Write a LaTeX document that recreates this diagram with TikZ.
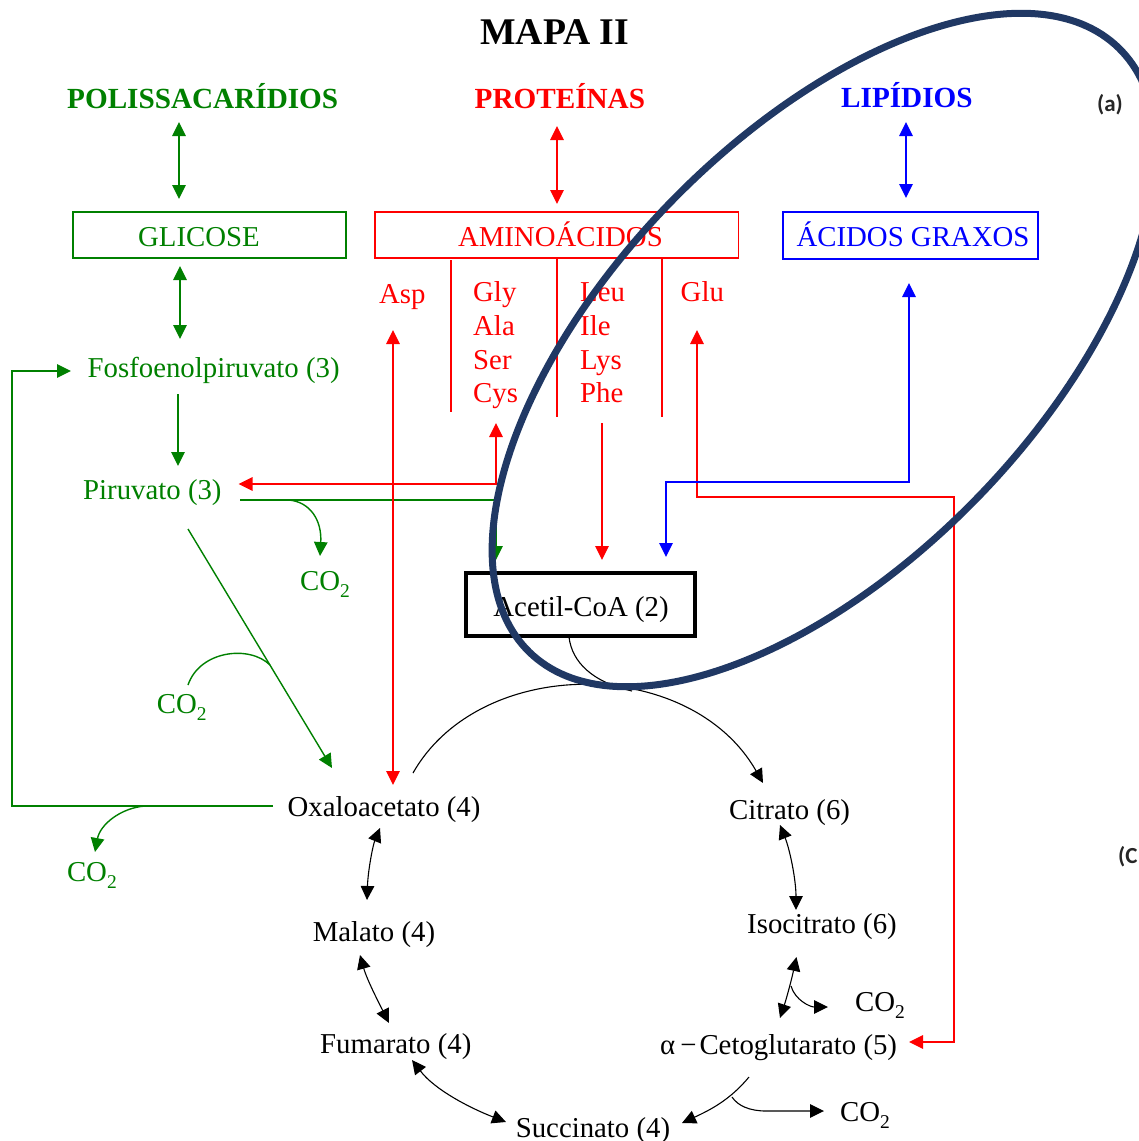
\documentclass[tikz,border=0pt]{standalone}
\usepackage{fontspec}
\setmainfont{Liberation Serif}
\newfontfamily\sansb{Carlito}
\usetikzlibrary{arrows.meta}
\definecolor{ggreen}{RGB}{0,128,0}
\definecolor{rred}{RGB}{255,0,0}
\definecolor{bblue}{RGB}{0,0,255}
\definecolor{navy}{RGB}{32,56,100}
\newcommand{\cotwo}{CO\raisebox{-7pt}{\fontsize{19.5}{20}\selectfont 2}}
\tikzset{
  lg/.style={draw=ggreen, line width=1.4pt},
  lr/.style={draw=rred, line width=1.4pt},
  lb/.style={draw=bblue, line width=1.4pt},
  lk/.style={draw=black, line width=1.1pt},
  ea/.style={-{Triangle[length=14pt,width=13.5pt]}},
  da/.style={{Triangle[length=14pt,width=13.5pt]}-{Triangle[length=14pt,width=13.5pt]}},
  txt/.style={inner sep=0pt, anchor=base west, font=\fontsize{28.8}{34}\selectfont},
  hd/.style={inner sep=0pt, anchor=base west, font=\fontsize{29.2}{34}\selectfont\bfseries},
  boxx/.style={draw, line width=1.4pt, inner sep=0pt, fill=none}
}
\begin{document}
\begin{tikzpicture}[x=1pt,y=-1pt]
\useasboundingbox (0,0) rectangle (1139,1141);
% ---------- headings
\node[hd, font=\fontsize{37.7}{42}\selectfont\bfseries] (title) at (480,44) {MAPA II};
\node[hd, text=ggreen] (polis) at (67,108) {POLISSACARÍDIOS};
\node[hd, text=rred] (prot) at (474.5,108) {PROTEÍNAS};
\node[hd, text=bblue] (lip) at (841,107) {LIPÍDIOS};
\node[inner sep=0pt, font=\sansb\fontsize{23}{26}\selectfont\bfseries, text=black!85] (lbla) at (1110,104.5) {(a)};
\node[inner sep=0pt, anchor=west, font=\sansb\fontsize{23}{26}\selectfont\bfseries, text=black!85] (lblc) at (1118,857) {(C};
% ---------- boxes
\node[boxx, draw=ggreen, minimum width=273pt, minimum height=46pt] (glibox) at (209.5,235) {};
\node[txt, anchor=base, text=ggreen] (gli) at (199,246) {GLICOSE};
\node[boxx, draw=rred, minimum width=363.6pt, minimum height=46pt] (amibox) at (556.8,235) {};
\node[txt, anchor=base, text=rred] (ami) at (560.4,246) {AMINOÁCIDOS};
\node[boxx, draw=bblue, minimum width=255pt, minimum height=47pt] (agbox) at (910.5,235.5) {};
\node[txt, anchor=base, text=bblue] (ag) at (913,246.5) {ÁCIDOS GRAXOS};
\node[boxx, draw=black, line width=3.5pt, minimum width=229pt, minimum height=63pt] (acebox) at (580.5,604.5) {};
\node[txt, anchor=base] (ace) at (581,616.5) {Acetil-CoA (2)};
% ---------- metabolites
\node[txt, text=ggreen] (fosfo) at (87.5,377.5) {Fosfoenolpiruvato (3)};
\node[txt, text=ggreen] (piru) at (83,499) {Piruvato (3)};
\node[txt] (oxa) at (287.5,816.5) {Oxaloacetato (4)};
\node[txt] (cit) at (729,819.5) {Citrato (6)};
\node[txt] (iso) at (747,933) {Isocitrato (6)};
\node[txt] (ceto) at (660,1054) {α\hspace{5pt}−\hspace{3pt}Cetoglutarato (5)};
\node[txt] (mal) at (312.6,941.5) {Malato (4)};
\node[txt] (fum) at (320,1053) {Fumarato (4)};
\node[txt] (suc) at (515.6,1137) {Succinato (4)};
% ---------- CO2
\node[txt, text=ggreen] (co2a) at (300,590) {\cotwo};
\node[txt, text=ggreen] (co2b) at (156.7,713) {\cotwo};
\node[txt, text=ggreen] (co2c) at (66.8,881.7) {\cotwo};
\node[txt] (co2d) at (855,1011.7) {\cotwo};
\node[txt] (co2e) at (840,1121.7) {\cotwo};
% ---------- amino acids
\node[txt, text=rred] (asp) at (379,303) {Asp};
\node[txt, text=rred] (gly) at (473,301.7) {Gly};
\node[txt, text=rred] (ala) at (473,335.5) {Ala};
\node[txt, text=rred] (ser) at (473,369.5) {Ser};
\node[txt, text=rred] (cys) at (473,402) {Cys};
\node[txt, text=rred] (leu) at (580,301) {Leu};
\node[txt, text=rred] (ile) at (580,335) {Ile};
\node[txt, text=rred] (lys) at (580,369) {Lys};
\node[txt, text=rred] (phe) at (580,402) {Phe};
\node[txt, text=rred] (glu) at (680.5,301) {Glu};
% ---------- coordinates
\coordinate (g1a) at (179,122); \coordinate (g1b) at (179,199);
\coordinate (g2a) at (180,266); \coordinate (g2b) at (180,339);
\coordinate (g3a) at (178,394); \coordinate (g3b) at (178,466);
\coordinate (g4a) at (240,500); \coordinate (g4b) at (496,500); \coordinate (g4c) at (496,560);
\coordinate (g5a) at (289,500); \coordinate (g5b) at (320,556);
\coordinate (g6a) at (188,529); \coordinate (g6b) at (332,768);
\coordinate (g7a) at (188,685); \coordinate (g7b) at (270,665);
\coordinate (g8a) at (273,806); \coordinate (g8b) at (12,806); \coordinate (g8c) at (12,371); \coordinate (g8d) at (71,371);
\coordinate (g9a) at (145,806); \coordinate (g9b) at (95,852);
\coordinate (r1a) at (557,126); \coordinate (r1b) at (557,204);
\coordinate (r2a) at (393,330); \coordinate (r2b) at (393,785);
\coordinate (r3a) at (238.6,484); \coordinate (r3b) at (496,484); \coordinate (r3c) at (496,423);
\coordinate (r4a) at (602,423); \coordinate (r4b) at (602,560);
\coordinate (r5a) at (697,330); \coordinate (r5b) at (697,497); \coordinate (r5c) at (954,497); \coordinate (r5d) at (954,1042); \coordinate (r5e) at (909,1042);
\coordinate (d1a) at (451,260); \coordinate (d1b) at (451,412);
\coordinate (d2a) at (557,258); \coordinate (d2b) at (557,417);
\coordinate (d3a) at (662,258); \coordinate (d3b) at (662,417);
\coordinate (b1a) at (906,122); \coordinate (b1b) at (906,198);
\coordinate (b2a) at (909,283); \coordinate (b2b) at (909,482); \coordinate (b2c) at (666,482); \coordinate (b2d) at (666,557);
\coordinate (k1a) at (413,773); \coordinate (k1b) at (763,783);
\coordinate (k2a) at (569,637); \coordinate (k2b) at (632,691);
\coordinate (k3a) at (780,825); \coordinate (k3b) at (796,910);
\coordinate (k4a) at (796.5,957); \coordinate (k4b) at (780,1018);
\coordinate (k5a) at (791,986); \coordinate (k5b) at (828,1007);
\coordinate (k6a) at (749,1077); \coordinate (k6b) at (682,1123);
\coordinate (k7a) at (732,1097); \coordinate (k7b) at (766,1111); \coordinate (k7c) at (824,1111);
\coordinate (k8a) at (506,1122); \coordinate (k8b) at (412,1060);
\coordinate (k9a) at (389,1023); \coordinate (k9b) at (360,955);
\coordinate (k10a) at (367,900); \coordinate (k10b) at (380,828);
% ---------- green connectors
\draw[lg,da] (g1a) -- (g1b);
\draw[lg,da] (g2a) -- (g2b);
\draw[lg,ea] (g3a) -- (g3b);
\draw[lg,ea] (g4a) -- (g4b) -- (g4c);
\draw[lg,ea] (g5a) .. controls (310,502) and (322,520) .. (g5b);
\draw[lg,ea] (g6a) -- (g6b);
\draw[lg] (g7a) .. controls (200,650) and (250,645) .. (g7b);
\draw[lg,ea] (g8a) -- (g8b) -- (g8c) -- (g8d);
\draw[lg,ea] (g9a) .. controls (120,808) and (100,825) .. (g9b);
% ---------- red connectors
\draw[lr,da] (r1a) -- (r1b);
\draw[lr,da] (r2a) -- (r2b);
\draw[lr,da] (r3a) -- (r3b) -- (r3c);
\draw[lr,ea] (r4a) -- (r4b);
\draw[lr,da] (r5a) -- (r5b) -- (r5c) -- (r5d) -- (r5e);
\draw[lr] (d1a) -- (d1b);
\draw[lr] (d2a) -- (d2b);
\draw[lr] (d3a) -- (d3b);
% ---------- blue connectors
\draw[lb,da] (b1a) -- (b1b);
\draw[lb,da] (b2a) -- (b2b) -- (b2c) -- (b2d);
% ---------- black connectors (cycle)
\draw[lk,ea] (k1a) .. controls (480,655) and (690,655) .. (k1b);
\draw[lk] (k2a) .. controls (572,662) and (592,682) .. (k2b);
\draw[lk,da] (k3a) .. controls (790,850) and (796,880) .. (k3b);
\draw[lk,da] (k4a) .. controls (791,982) and (786,1000) .. (k4b);
\draw[lk,ea] (k5a) .. controls (795,1000) and (810,1007) .. (k5b);
\draw[lk,ea] (k6a) .. controls (730,1100) and (710,1110) .. (k6b);
\draw[lk,ea] (k7a) .. controls (738,1106) and (750,1111) .. (k7b) -- (k7c);
\draw[lk,da] (k8a) .. controls (470,1108) and (435,1090) .. (k8b);
\draw[lk,da] (k9a) .. controls (380,1005) and (367,980) .. (k9b);
\draw[lk,da] (k10a) .. controls (368,870) and (373,845) .. (k10b);
% ---------- ellipse
\draw[draw=navy, line width=7pt, rotate around={45.7:(824,350)}] (824,350) ellipse [x radius=422pt, y radius=213pt];
\end{tikzpicture}
\end{document}
